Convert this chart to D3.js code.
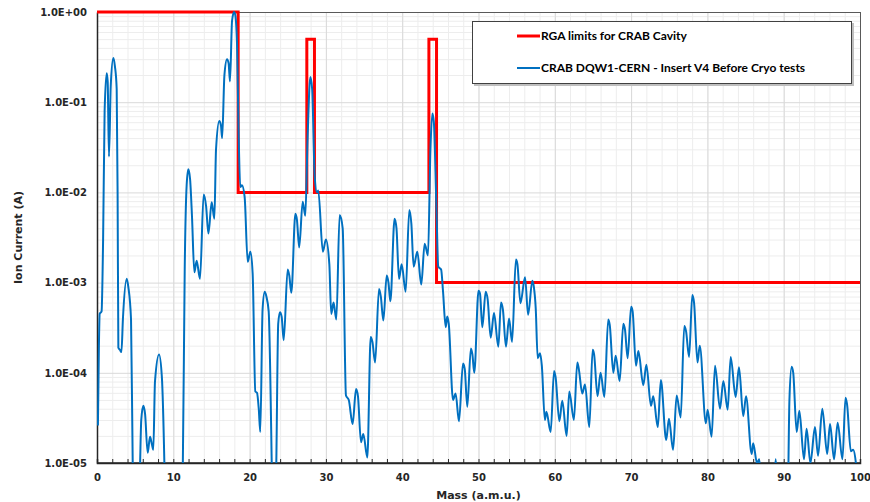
<!DOCTYPE html>
<html>
<head>
<meta charset="utf-8">
<script src="https://cdn.jsdelivr.net/npm/d3@7"></script>
<style>
  html, body { margin: 0; padding: 0; background: #fff; }
  svg { display: block; }
</style>
</head>
<body>
<svg id="chart" width="870" height="502"></svg>
<script>
// ---------------- DATA ----------------
const xTickValues = [0, 10, 20, 30, 40, 50, 60, 70, 80, 90, 100];
const yTickValues = [1e-5, 1e-4, 1e-3, 1e-2, 1e-1, 1];

const seriesNames = ["RGA limits for CRAB Cavity", "CRAB DQW1-CERN - Insert V4 Before Cryo tests"];

// RGA limit (step after)
const limitMass  = [0, 18.5, 27.5, 28.5, 43.5, 44.5, 100];
const limitValue = [1, 0.01, 0.5, 0.01, 0.5, 0.001, 0.001];

// Measured spectrum
const specMass = [
  0.12, 0.25, 0.35, 0.6, 0.8, 1.0, 1.27, 1.4, 1.57, 1.8, 2.14, 2.35, 2.58, 2.7, 2.8, 3.0, 3.2, 3.4, 3.89, 4.1, 4.46, 4.68, 4.8,
  5.5, 5.65, 5.8, 6.07, 6.3, 6.64, 6.95, 7.2, 7.38, 7.6, 8.13, 8.5, 8.83, 8.95,
  11.0, 11.25, 11.5, 11.75, 11.97, 12.2, 12.45, 12.76, 13.06, 13.5, 13.98, 14.3, 14.6, 15.03, 15.38, 15.6, 16.03, 16.25, 16.4,
  16.7, 17.04, 17.25, 17.43, 17.7, 17.96, 18.1, 18.35, 18.55, 18.78, 19.0, 19.35, 19.75, 20.1, 20.4, 20.75, 20.97, 21.2, 21.4,
  21.7, 21.98, 22.2, 22.5, 22.9, 23.0, 23.4, 23.5, 23.75, 23.98, 24.2, 24.47, 24.99, 25.2, 25.47, 26.0, 26.2, 26.5, 26.96, 27.3,
  27.6, 27.96, 28.2, 28.53, 28.83, 29.0, 29.6, 30.0, 30.45, 30.7, 31.0, 31.37, 31.8, 32.2, 32.63, 33.0, 33.5, 33.95, 34.2, 34.6,
  34.9, 35.43, 35.87, 36.1, 36.45, 36.96, 37.2, 37.53, 37.97, 38.2, 38.45, 39.0, 39.25, 39.58, 39.93, 40.45, 40.93, 41.2, 41.5,
  41.98, 42.5, 42.94, 43.38, 43.7, 43.95, 44.15, 44.47, 44.73, 45.1, 45.35, 45.7, 45.9, 46.1, 46.66, 47.0, 47.44, 47.97, 48.2,
  48.53, 49.0, 49.2, 49.45, 50.0, 50.2, 50.5, 50.94, 51.2, 51.6, 52.03, 52.6, 52.95, 53.2, 53.6, 54.0, 54.4, 54.9, 55.1, 55.5,
  56.1, 56.5, 57.06, 57.25, 57.5, 57.76, 58.06, 58.3, 58.7, 58.9, 59.46, 59.9, 60.1, 60.6, 60.98, 61.55, 61.9, 62.5, 62.95, 63.15,
  63.6, 63.96, 64.52, 64.96, 65.15, 65.6, 66.0, 66.5, 67.0, 67.2, 67.67, 67.98, 68.5, 68.98, 69.2, 69.55, 70.0, 70.2, 70.64,
  70.95, 71.6, 72.0, 72.6, 72.9, 73.5, 73.9, 74.6, 74.96, 75.5, 75.97, 76.5, 76.97, 77.2, 77.6, 78.02, 78.25, 78.7, 79.0, 79.8,
  80.03, 80.55, 81.0, 81.65, 82.09, 82.66, 83.05, 83.7, 84.14, 84.7, 85.06, 85.8, 86.0, 86.5, 86.8, 87.1, 88.7, 88.95, 89.2,
  90.5, 90.75, 91.04, 91.25, 91.7, 92.05, 92.66, 93.0, 93.5, 94.1, 94.5, 95.06, 95.7, 96.07, 96.6, 97.07, 97.7, 98.1, 98.3,
  98.8, 99.1, 99.6
];
const specCurrent = [
  2.6e-5, 2.0e-4, 4.5e-4, 4.8e-4, 3e-3, 0.08, 0.21, 0.17, 0.025, 0.15, 0.31, 0.25, 0.14, 0.01, 1.9e-4, 1.8e-4, 1.7e-4, 4e-4, 1.1e-3, 9e-4, 3.9e-4, 1e-5, 3e-6,
  3e-6, 1e-5, 3e-5, 4.3e-5, 3.5e-5, 1.3e-5, 1.95e-5, 1.6e-5, 1.4e-5, 8e-5, 1.6e-4, 9e-5, 1e-5, 3e-6,
  3e-6, 1e-5, 1.5e-3, 0.012, 0.018, 0.014, 5.4e-3, 1.3e-3, 1.75e-3, 1.1e-3, 9.5e-3, 7e-3, 3.5e-3, 7.8e-3, 5.1e-3, 0.03, 0.062, 0.055, 0.04,
  0.2, 0.30, 0.27, 0.17, 0.8, 1.0, 0.95, 0.45, 0.05, 0.0115, 0.012, 8.9e-3, 1.7e-3, 2.2e-3, 1.26e-3, 6.2e-5, 6e-5, 4e-5, 2.2e-5,
  5e-4, 7.9e-4, 7e-4, 4.8e-4, 1e-5, 3e-6, 3e-6, 1e-5, 3.5e-4, 4.7e-4, 4.2e-4, 2.3e-4, 1.4e-3, 1.2e-3, 7.7e-4, 5.8e-3, 5e-3, 2.45e-3, 7.9e-3, 5.5e-3,
  0.04, 0.19, 0.14, 0.015, 0.01, 0.0105, 2.2e-3, 3.0e-3, 1.6e-3, 4.5e-4, 6e-4, 3.9e-4, 5.6e-3, 4e-3, 5.6e-5, 5e-5, 2.7e-5, 6.6e-5, 5.5e-5, 1.7e-5,
  2.1e-5, 1.15e-5, 2.5e-4, 2.2e-4, 1.3e-4, 8.5e-4, 7e-4, 3.8e-4, 1.2e-3, 1e-3, 6.2e-4, 5.1e-3, 4e-3, 1.1e-3, 1.6e-3, 7.9e-4, 6.4e-3, 4.5e-3, 1.5e-3,
  2.2e-3, 9.5e-4, 2.7e-3, 2.0e-3, 0.03, 0.075, 0.06, 7.6e-3, 1.5e-3, 1.4e-3, 8e-4, 3.2e-4, 4.2e-4, 3.5e-4, 5e-5, 5.9e-5, 2.9e-5, 1.27e-4, 1.1e-4,
  4.2e-5, 1.86e-4, 1.6e-4, 1.0e-4, 8.1e-4, 7.5e-4, 3.2e-4, 7.9e-4, 6.5e-4, 2.45e-4, 4.6e-4, 1.95e-4, 6e-4, 5e-4, 1.95e-4, 4e-4, 2.2e-4, 1.8e-3, 1.6e-3, 5.9e-4,
  1.15e-3, 4.4e-4, 1.05e-3, 9e-4, 5.2e-4, 1.45e-4, 1.65e-4, 1.2e-4, 3e-5, 3.7e-5, 2.2e-5, 1.05e-4, 9e-5, 2.9e-5, 4.9e-5, 2e-5, 6.2e-5, 3e-5, 1.3e-4, 1.1e-4,
  5.9e-5, 7.4e-5, 2.5e-5, 1.8e-4, 1.6e-4, 5.5e-5, 1.0e-4, 5.4e-5, 3.9e-4, 3.4e-4, 1.0e-4, 1.55e-4, 8.1e-5, 3.5e-4, 3e-4, 1.45e-4, 5.4e-4, 4.8e-4, 1.2e-4,
  1.74e-4, 7.3e-5, 1.23e-4, 4.3e-5, 5.5e-5, 2.5e-5, 8.3e-5, 1.8e-5, 3.1e-5, 1.4e-5, 5.6e-5, 3.2e-5, 3.3e-4, 2.9e-4, 1.5e-4, 7.3e-4, 6e-4, 1.3e-4, 2e-4, 2.75e-5,
  3.9e-5, 1.95e-5, 1.2e-4, 4e-5, 8.1e-5, 3.9e-5, 1.5e-4, 5.4e-5, 1.15e-4, 3.3e-5, 5.5e-5, 1.26e-5, 1.66e-5, 1.0e-5, 1.1e-5, 5e-6, 5e-6, 1.1e-5, 5e-6,
  3e-6, 5e-5, 1.17e-4, 1e-4, 2.2e-5, 3.8e-5, 1.1e-5, 2.4e-5, 1.0e-5, 2.5e-5, 1.2e-5, 4e-5, 1.26e-5, 2.7e-5, 1.1e-5, 2.8e-5, 1.1e-5, 5.3e-5, 4.5e-5,
  1.35e-5, 1.4e-5, 8e-6
];

// ---------------- LAYOUT ----------------
(function () {
const svg = d3.select("#chart");
const pL = 97, pR = 860, pT = 12, pB = 463;
const W = pR - pL, H = pB - pT;

const x = d3.scaleLinear().domain([0, 100]).range([pL, pR]);
const y = d3.scaleLog().domain([1e-5, 1]).range([pB, pT]);

// minor vertical grid (every 2)
const minorX = d3.range(0, 101, 2);
svg.append("g").attr("transform", `translate(0,${pB})`)
  .call(d3.axisBottom(x).tickValues(minorX).tickSize(-H).tickFormat(""))
  .call(g => g.select(".domain").remove())
  .call(g => g.selectAll("line").attr("stroke", "#ededed").attr("stroke-width", 1));

// minor horizontal grid (log minors)
const minorY = [];
for (let e = -5; e < 0; e++) for (let k = 2; k <= 9; k++) minorY.push(k * Math.pow(10, e));
svg.append("g").attr("transform", `translate(${pL},0)`)
  .call(d3.axisLeft(y).tickValues(minorY).tickSize(-W).tickFormat(""))
  .call(g => g.select(".domain").remove())
  .call(g => g.selectAll("line").attr("stroke", "#ededed").attr("stroke-width", 1));

// major grids
svg.append("g").attr("transform", `translate(0,${pB})`)
  .call(d3.axisBottom(x).tickValues(xTickValues).tickSize(-H).tickFormat(""))
  .call(g => g.select(".domain").remove())
  .call(g => g.selectAll("line").attr("stroke", "#d9d9d9").attr("stroke-width", 1));
svg.append("g").attr("transform", `translate(${pL},0)`)
  .call(d3.axisLeft(y).tickValues(yTickValues).tickSize(-W).tickFormat(""))
  .call(g => g.select(".domain").remove())
  .call(g => g.selectAll("line").attr("stroke", "#d9d9d9").attr("stroke-width", 1));

// frame
svg.append("rect").attr("x", pL + 0.5).attr("y", pT + 0.5).attr("width", W).attr("height", H - 1)
  .attr("fill", "none").attr("stroke", "#595959").attr("stroke-width", 1);

// clip
svg.append("clipPath").attr("id", "plotclip").append("rect")
  .attr("x", pL).attr("y", pT - 3).attr("width", W + 2).attr("height", H + 3);

// bottom axis with inner ticks
svg.append("g").attr("transform", `translate(0,${pB})`)
  .call(d3.axisBottom(x).tickValues(minorX).tickSize(-4).tickFormat(""))
  .call(g => g.select(".domain").attr("stroke", "#262626").attr("stroke-width", 1.5))
  .call(g => g.selectAll("line").attr("stroke", "#262626"));

// x tick labels
svg.append("g").attr("transform", `translate(0,${pB})`)
  .call(d3.axisBottom(x).tickValues(xTickValues).tickSize(0).tickPadding(11).tickFormat(d3.format("d")))
  .call(g => g.select(".domain").remove())
  .call(g => g.selectAll("text").attr("font-family", "DejaVu Sans").attr("font-weight", "bold")
     .attr("font-size", "10px").attr("fill", "#262626"));

// y tick labels
const fmtE = v => {
  const e = Math.round(Math.log10(v));
  return "1.0E" + (e >= 0 ? "+" : "-") + String(Math.abs(e)).padStart(2, "0");
};
svg.append("g").attr("transform", `translate(${pL},0)`)
  .call(d3.axisLeft(y).tickValues(yTickValues).tickSize(0).tickPadding(10).tickFormat(fmtE))
  .call(g => g.select(".domain").attr("stroke", "#262626").attr("stroke-width", 1.5))
  .call(g => g.selectAll("text").attr("font-family", "DejaVu Sans").attr("font-weight", "bold")
     .attr("font-size", "10px").attr("fill", "#262626"));

// axis titles
svg.append("text").attr("x", (pL + pR) / 2).attr("y", 499).attr("text-anchor", "middle")
  .attr("font-family", "DejaVu Sans").attr("font-weight", "bold").attr("font-size", "11px").attr("fill", "#262626")
  .text("Mass (a.m.u.)");
svg.append("text").attr("transform", `translate(22,${(pT + pB) / 2}) rotate(-90)`).attr("text-anchor", "middle")
  .attr("font-family", "DejaVu Sans").attr("font-weight", "bold").attr("font-size", "11px").attr("fill", "#262626")
  .text("Ion Current (A)");

// series
const limitData = limitMass.map((m, i) => [m, limitValue[i]]);
const specData = specMass.map((m, i) => [m, specCurrent[i]]);

const plot = svg.append("g").attr("clip-path", "url(#plotclip)");

plot.append("path").datum(limitData)
  .attr("d", d3.line().x(d => x(d[0])).y(d => y(d[1])).curve(d3.curveStepAfter))
  .attr("fill", "none").attr("stroke", "#ff0000").attr("stroke-width", 3);

plot.append("path").datum(specData)
  .attr("d", d3.line().x(d => x(d[0])).y(d => y(d[1])).curve(d3.curveMonotoneX))
  .attr("fill", "none").attr("stroke", "#0070c0").attr("stroke-width", 2).attr("stroke-linejoin", "round");

// legend
const lg = svg.append("g");
lg.append("rect").attr("x", 474).attr("y", 23).attr("width", 380).attr("height", 63).attr("fill", "#bfbfbf");
lg.append("rect").attr("x", 472.5).attr("y", 21.5).attr("width", 379).attr("height", 62)
  .attr("fill", "#fff").attr("stroke", "#404040").attr("stroke-width", 1);
const legendItems = [
  { name: seriesNames[0], color: "#ff0000", w: 3, y: 36 },
  { name: seriesNames[1], color: "#0070c0", w: 2, y: 68 }
];
legendItems.forEach(it => {
  lg.append("line").attr("x1", 517).attr("x2", 540).attr("y1", it.y).attr("y2", it.y)
    .attr("stroke", it.color).attr("stroke-width", it.w);
  lg.append("text").attr("x", 541).attr("y", it.y + 4).attr("font-family", "Lato").attr("font-weight", "bold")
    .attr("font-size", "12px").attr("fill", "#000").text(it.name);
});
})();
</script>
</body>
</html>
